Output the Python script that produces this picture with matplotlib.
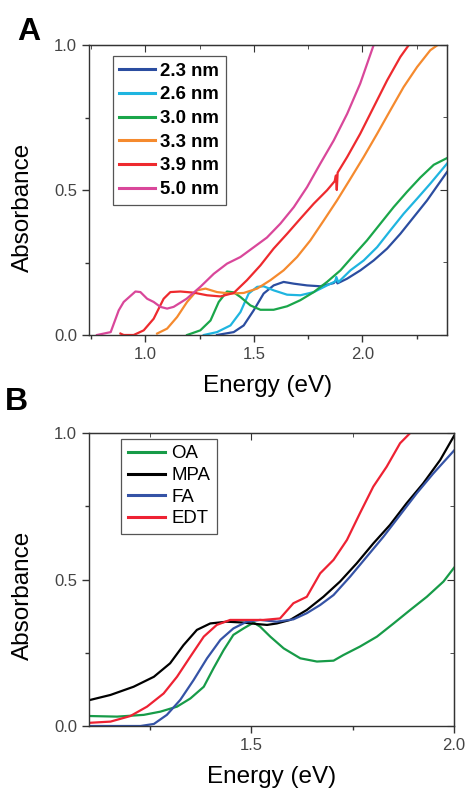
import numpy as np
import matplotlib.pyplot as plt
from matplotlib.ticker import MultipleLocator

plt.rcParams['font.family'] = ['Liberation Sans', 'DejaVu Sans']

# ---- panel A: absorbance vs energy for different QD sizes ----
sizes = ['2.3 nm', '2.6 nm', '3.0 nm', '3.3 nm', '3.9 nm', '5.0 nm']
colors_a = ['#2B4DA0', '#1FB5E0', '#1AA64A', '#F58A2E', '#EE2A2E', '#D9479A']

e_23 = [1.33, 1.407, 1.453, 1.499, 1.545, 1.591, 1.637, 1.684, 1.745, 1.806, 1.868, 1.88, 1.885, 1.929, 1.991,
        2.052, 2.114, 2.175, 2.237, 2.298, 2.39]
a_23 = [0.0, 0.01, 0.033, 0.085, 0.143, 0.171, 0.183, 0.177, 0.171, 0.168, 0.179, 0.19, 0.178, 0.194, 0.223,
        0.257, 0.298, 0.349, 0.407, 0.464, 0.562]
e_26 = [1.269, 1.33, 1.392, 1.438, 1.476, 1.515, 1.545, 1.591, 1.653, 1.714, 1.776, 1.837, 1.875, 1.88, 1.889,
        1.945, 2.006, 2.068, 2.129, 2.19, 2.252, 2.313, 2.39]
a_26 = [0.0, 0.01, 0.033, 0.079, 0.143, 0.166, 0.168, 0.154, 0.139, 0.137, 0.148, 0.171, 0.185, 0.2, 0.182,
        0.223, 0.257, 0.303, 0.361, 0.418, 0.47, 0.522, 0.591]
e_30 = [1.192, 1.253, 1.3, 1.338, 1.376, 1.407, 1.438, 1.484, 1.53, 1.591, 1.653, 1.714, 1.776, 1.837, 1.899,
        1.96, 2.021, 2.083, 2.144, 2.206, 2.267, 2.329, 2.39]
a_30 = [0.0, 0.016, 0.05, 0.114, 0.15, 0.147, 0.131, 0.102, 0.087, 0.087, 0.099, 0.12, 0.148, 0.183, 0.223,
        0.275, 0.326, 0.384, 0.441, 0.494, 0.543, 0.587, 0.61]
e_33 = [1.054, 1.1, 1.146, 1.192, 1.238, 1.277, 1.33, 1.392, 1.453, 1.515, 1.576, 1.637, 1.699, 1.76, 1.822,
        1.883, 1.945, 2.006, 2.068, 2.129, 2.19, 2.252, 2.313, 2.347]
a_33 = [0.005, 0.022, 0.062, 0.114, 0.154, 0.16, 0.148, 0.143, 0.145, 0.16, 0.189, 0.223, 0.269, 0.326, 0.395,
        0.464, 0.539, 0.614, 0.694, 0.775, 0.855, 0.924, 0.982, 1.0]
e_39 = [0.885, 0.9, 0.946, 0.992, 1.038, 1.084, 1.115, 1.161, 1.223, 1.284, 1.346, 1.407, 1.468, 1.53, 1.591,
        1.653, 1.714, 1.776, 1.837, 1.872, 1.878, 1.882, 1.886, 1.93, 1.99, 2.052, 2.114, 2.175, 2.214]
a_39 = [0.005, 0.0, 0.0, 0.016, 0.056, 0.125, 0.148, 0.15, 0.146, 0.137, 0.133, 0.145, 0.189, 0.24, 0.298,
        0.349, 0.401, 0.453, 0.499, 0.53, 0.55, 0.5, 0.56, 0.614, 0.694, 0.786, 0.878, 0.959, 1.0]
e_50 = [0.777, 0.84, 0.877, 0.9, 0.954, 0.977, 1.008, 1.038, 1.069, 1.1, 1.13, 1.19, 1.253, 1.315, 1.376,
        1.438, 1.5, 1.56, 1.622, 1.684, 1.745, 1.806, 1.868, 1.93, 1.99, 2.052]
a_50 = [0.0, 0.01, 0.085, 0.114, 0.15, 0.148, 0.125, 0.114, 0.097, 0.091, 0.097, 0.125, 0.166, 0.211, 0.246,
        0.269, 0.303, 0.336, 0.384, 0.441, 0.51, 0.591, 0.671, 0.763, 0.867, 1.0]

# ---- panel B: different ligand treatments ----
ligands = ['OA', 'MPA', 'FA', 'EDT']
colors_b = ['#179B48', '#000000', '#3553A6', '#EE2233']

e_oa = [1.103, 1.169, 1.235, 1.276, 1.317, 1.35, 1.383, 1.407, 1.432, 1.456, 1.481, 1.506, 1.522, 1.547, 1.58,
        1.621, 1.662, 1.703, 1.727, 1.768, 1.81, 1.851, 1.892, 1.933, 1.974, 2.0]
a_oa = [0.034, 0.032, 0.038, 0.049, 0.066, 0.094, 0.134, 0.197, 0.259, 0.311, 0.333, 0.353, 0.339, 0.305, 0.265,
        0.231, 0.22, 0.223, 0.242, 0.271, 0.305, 0.35, 0.396, 0.441, 0.493, 0.54]
e_mpa = [1.103, 1.153, 1.21, 1.26, 1.3, 1.333, 1.366, 1.399, 1.44, 1.481, 1.514, 1.539, 1.563, 1.596, 1.637,
         1.678, 1.719, 1.76, 1.801, 1.842, 1.883, 1.924, 1.966, 2.0]
a_mpa = [0.089, 0.106, 0.134, 0.168, 0.214, 0.276, 0.328, 0.35, 0.356, 0.353, 0.348, 0.345, 0.35, 0.362, 0.396,
         0.441, 0.493, 0.555, 0.623, 0.686, 0.76, 0.828, 0.908, 0.99]
e_fa = [1.103, 1.227, 1.26, 1.292, 1.325, 1.358, 1.391, 1.424, 1.456, 1.489, 1.522, 1.563, 1.604, 1.637, 1.67,
        1.703, 1.744, 1.785, 1.826, 1.867, 1.908, 1.949, 2.0]
a_fa = [0.0, 0.0, 0.007, 0.038, 0.089, 0.157, 0.231, 0.294, 0.333, 0.356, 0.362, 0.356, 0.364, 0.385, 0.413,
        0.447, 0.51, 0.578, 0.646, 0.72, 0.794, 0.862, 0.94]
e_edt = [1.103, 1.153, 1.202, 1.243, 1.284, 1.317, 1.35, 1.383, 1.415, 1.448, 1.489, 1.53, 1.571, 1.604, 1.637,
         1.67, 1.703, 1.736, 1.768, 1.801, 1.834, 1.867, 1.892]
a_edt = [0.011, 0.015, 0.034, 0.066, 0.111, 0.168, 0.237, 0.305, 0.345, 0.362, 0.362, 0.362, 0.367, 0.419, 0.441,
         0.521, 0.567, 0.635, 0.726, 0.817, 0.885, 0.965, 1.0]

W, H = 466, 792
fig = plt.figure(figsize=(W / 100, H / 100), dpi=100)


def style_axes(ax, xmajor):
    for s in ax.spines.values():
        s.set_color('#333333')
        s.set_linewidth(1.0)
    ax.xaxis.set_major_locator(MultipleLocator(xmajor))
    ax.xaxis.set_minor_locator(MultipleLocator(xmajor / 2))
    ax.yaxis.set_major_locator(MultipleLocator(0.5))
    ax.yaxis.set_minor_locator(MultipleLocator(0.25))
    ax.tick_params(which='both', direction='out', colors='#333333', labelcolor='#444444', labelsize=12,
                   top=False, right=False)
    ax.tick_params(which='major', length=5, width=1)
    ax.tick_params(which='minor', length=3, width=1)
    # top / right ticks pointing inward, no labels
    top = ax.secondary_xaxis('top')
    top.xaxis.set_major_locator(MultipleLocator(xmajor))
    top.xaxis.set_minor_locator(MultipleLocator(xmajor / 2))
    top.tick_params(which='both', direction='in', labeltop=False, colors='#333333')
    top.tick_params(which='major', length=5)
    top.tick_params(which='minor', length=3)
    top.spines['top'].set_color('#333333')
    right = ax.secondary_yaxis('right')
    right.yaxis.set_major_locator(MultipleLocator(0.5))
    right.yaxis.set_minor_locator(MultipleLocator(0.25))
    right.tick_params(which='both', direction='in', labelright=False, colors='#333333')
    right.tick_params(which='major', length=5)
    right.tick_params(which='minor', length=3)
    right.spines['right'].set_color('#333333')


# panel A
axA = fig.add_axes([89 / W, 1 - 335 / H, (447 - 89) / W, (335 - 45) / H])
series_a = [(e_23, a_23), (e_26, a_26), (e_30, a_30), (e_33, a_33), (e_39, a_39), (e_50, a_50)]
for (e, a), lab, c in zip(series_a, sizes, colors_a):
    axA.plot(e, a, color=c, lw=1.6, label=lab)
axA.set_xlim(0.74, 2.39)
axA.set_ylim(0, 1.0)
axA.xaxis.set_major_formatter(plt.FormatStrFormatter('%.1f'))
axA.yaxis.set_major_formatter(plt.FormatStrFormatter('%.1f'))
style_axes(axA, 0.5)
axA.set_xlabel('Energy (eV)', fontsize=17.5)
axA.set_ylabel('Absorbance', fontsize=17.5)
axA.xaxis.set_label_coords(0.5, -0.138)
axA.yaxis.set_label_coords(-0.154, 0.44)
legA = axA.legend(loc='upper left', bbox_to_anchor=(0.067, 0.962), borderaxespad=0,
                  prop={'weight': 'bold', 'size': 13.4}, handlelength=1.9, handletextpad=0.3,
                  labelspacing=0.36, borderpad=0.35, fancybox=False, framealpha=1, edgecolor='#555555')
legA.get_frame().set_linewidth(0.9)
for h in legA.get_lines():
    h.set_linewidth(2.2)

# panel B
axB = fig.add_axes([89 / W, 1 - 726 / H, (454 - 89) / W, (726 - 433) / H])
series_b = [(e_oa, a_oa), (e_mpa, a_mpa), (e_fa, a_fa), (e_edt, a_edt)]
for (e, a), lab, c in zip(series_b, ligands, colors_b):
    axB.plot(e, a, color=c, lw=1.6, label=lab)
axB.set_xlim(1.1, 2.0)
axB.set_ylim(0, 1.0)
axB.xaxis.set_major_formatter(plt.FormatStrFormatter('%.1f'))
axB.yaxis.set_major_formatter(plt.FormatStrFormatter('%.1f'))
style_axes(axB, 0.5)
axB.set_xlabel('Energy (eV)', fontsize=17.5)
axB.set_ylabel('Absorbance', fontsize=17.5)
axB.xaxis.set_label_coords(0.5, -0.137)
axB.yaxis.set_label_coords(-0.151, 0.447)
legB = axB.legend(loc='upper left', bbox_to_anchor=(0.088, 0.98), borderaxespad=0,
                  prop={'size': 13.4}, handlelength=2.0, handletextpad=0.35,
                  labelspacing=0.25, borderpad=0.35, fancybox=False, framealpha=1, edgecolor='#555555')
legB.get_frame().set_linewidth(0.9)
for h in legB.get_lines():
    h.set_linewidth(2.2)

fig.text(17 / W, 1 - 40 / H, 'A', fontsize=23, fontweight='bold', va='baseline')
fig.text(5 / W, 1 - 410 / H, 'B', fontsize=23, fontweight='bold', va='baseline')

fig.savefig('out.png', dpi=100, facecolor='white')
